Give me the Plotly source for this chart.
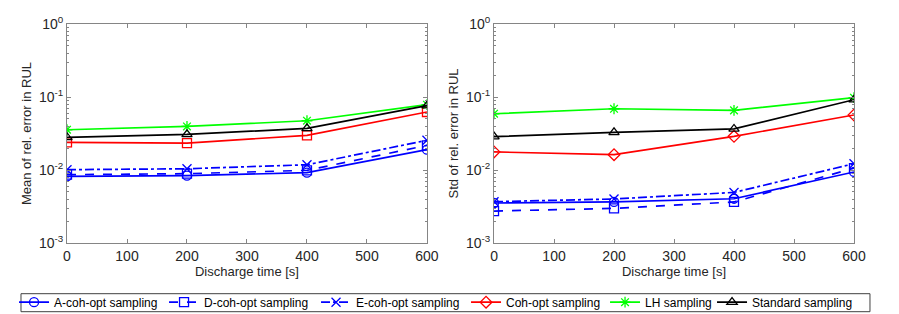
import plotly.graph_objects as go

# ---- data ----
time_s = [0, 200, 400, 600]

names = ["A-coh-opt sampling", "D-coh-opt sampling", "E-coh-opt sampling",
         "Coh-opt sampling", "LH sampling", "Standard sampling"]

mean_A = [0.00817, 0.00836, 0.0092, 0.019]
mean_D = [0.00863, 0.0089, 0.0099, 0.0217]
mean_E = [0.0101, 0.0104, 0.0118, 0.0255]
mean_coh = [0.0239, 0.0234, 0.0298, 0.0623]
mean_LH = [0.0356, 0.0395, 0.0473, 0.0785]
mean_std = [0.028, 0.0308, 0.0371, 0.076]

std_A = [0.00353, 0.00365, 0.00404, 0.0094]
std_D = [0.00274, 0.00298, 0.00365, 0.0106]
std_E = [0.00368, 0.00401, 0.00493, 0.0122]
std_coh = [0.0177, 0.0162, 0.0289, 0.0567]
std_LH = [0.059, 0.069, 0.0656, 0.0978]
std_std = [0.0286, 0.0327, 0.0365, 0.0918]

y_tickvals = [1e-3, 1e-2, 1e-1, 1]
y_ticktext = ["10<sup>-3</sup>", "10<sup>-2</sup>", "10<sup>-1</sup>", "10<sup>0</sup>"]
x_tickvals = [0, 100, 200, 300, 400, 500, 600]

# ---- styles ----
styles = [
    dict(color="#0000FF", dash="solid", symbol="circle-open", lw=105),
    dict(color="#0000FF", dash="dash", symbol="square-open", lw=107),
    dict(color="#0000FF", dash="dashdot", symbol="x-thin-open", lw=105),
    dict(color="#FF0000", dash="solid", symbol="diamond-open", lw=94),
    dict(color="#00FF00", dash="solid", symbol="asterisk-open", lw=62),
    dict(color="#000000", dash="solid", symbol="triangle-up-open", lw=100),
]
left_symbols = ["circle-open", "square-open", "x-thin-open", "square-open",
                "asterisk-open", "triangle-up-open"]

mean_series = [mean_A, mean_D, mean_E, mean_coh, mean_LH, mean_std]
std_series = [std_A, std_D, std_E, std_coh, std_LH, std_std]

fig = go.Figure()

for i, (nm, st) in enumerate(zip(names, styles)):
    fig.add_trace(go.Scatter(
        x=time_s, y=mean_series[i], mode="lines+markers", name=nm,
        xaxis="x", yaxis="y", showlegend=False,
        line=dict(color=st["color"], dash=st["dash"], width=1.7),
        marker=dict(symbol=left_symbols[i], size=9, color=st["color"],
                    line=dict(color=st["color"], width=1.3)),
    ))
for i, (nm, st) in enumerate(zip(names, styles)):
    fig.add_trace(go.Scatter(
        x=time_s, y=std_series[i], mode="lines+markers", name=nm,
        xaxis="x2", yaxis="y2", showlegend=True, legendwidth=st["lw"],
        line=dict(color=st["color"], dash=st["dash"], width=1.7),
        marker=dict(symbol=st["symbol"], size=9, color=st["color"],
                    line=dict(color=st["color"], width=1.3)),
    ))

FONT = "Liberation Sans, Arial, Helvetica, sans-serif"
axcol = "#858585"
txtcol = "#262626"

def xax(domain, anchor):
    return dict(domain=domain, anchor=anchor, range=[0, 600],
                tickvals=x_tickvals, ticks="inside", ticklen=4,
                tickcolor=axcol, showline=True, linecolor=axcol,
                linewidth=1, mirror="ticks", showgrid=False, zeroline=False,
                automargin=False,
                tickfont=dict(size=14, color=txtcol, family=FONT),
                title=dict(text="Discharge time [s]", standoff=2,
                           font=dict(size=13, color=txtcol, family=FONT)))

def yax(domain, anchor, title):
    return dict(domain=domain, anchor=anchor, type="log", range=[-3, 0],
                tickvals=y_tickvals, ticktext=y_ticktext, ticks="inside",
                ticklen=4, tickcolor=axcol, showline=True, linecolor=axcol,
                linewidth=1, mirror="ticks", showgrid=False, zeroline=False,
                automargin=False,
                minor=dict(ticks="inside", ticklen=2, tickcolor=axcol,
                           dtick="D1", showgrid=False),
                tickfont=dict(size=14, color=txtcol, family=FONT),
                title=dict(text=title, standoff=4,
                           font=dict(size=13, color=txtcol, family=FONT)))

fig.update_layout(
    width=899, height=314,
    margin=dict(l=67, r=45, t=24, b=71, autoexpand=False),
    paper_bgcolor="white", plot_bgcolor="white",
    font=dict(family=FONT, color=txtcol),
    xaxis=xax([0, 0.4574], "y"),
    yaxis=yax([0, 1], "x", "Mean of rel. error in RUL"),
    xaxis2=xax([0.5426, 1], "y2"),
    yaxis2=yax([0, 1], "x2", "Std of rel. error in RUL"),
    legend=dict(orientation="h", xref="paper", yref="paper",
                x=-0.0673, xanchor="left", y=-0.204, yanchor="top",
                borderwidth=0, bgcolor="rgba(0,0,0,0)",
                font=dict(size=12, color="#000000", family=FONT),
                itemwidth=30, tracegroupgap=0),
    shapes=[dict(type="rect", xref="paper", yref="paper",
                 x0=-0.05845, x1=1.0203, y0=-0.3137, y1=-0.2315,
                 line=dict(color="#404040", width=1), fillcolor="white",
                 layer="below")],
    showlegend=True,
)

fig.write_html("out.html", config={"displayModeBar": False},
               post_script="document.body.style.margin='0';")
